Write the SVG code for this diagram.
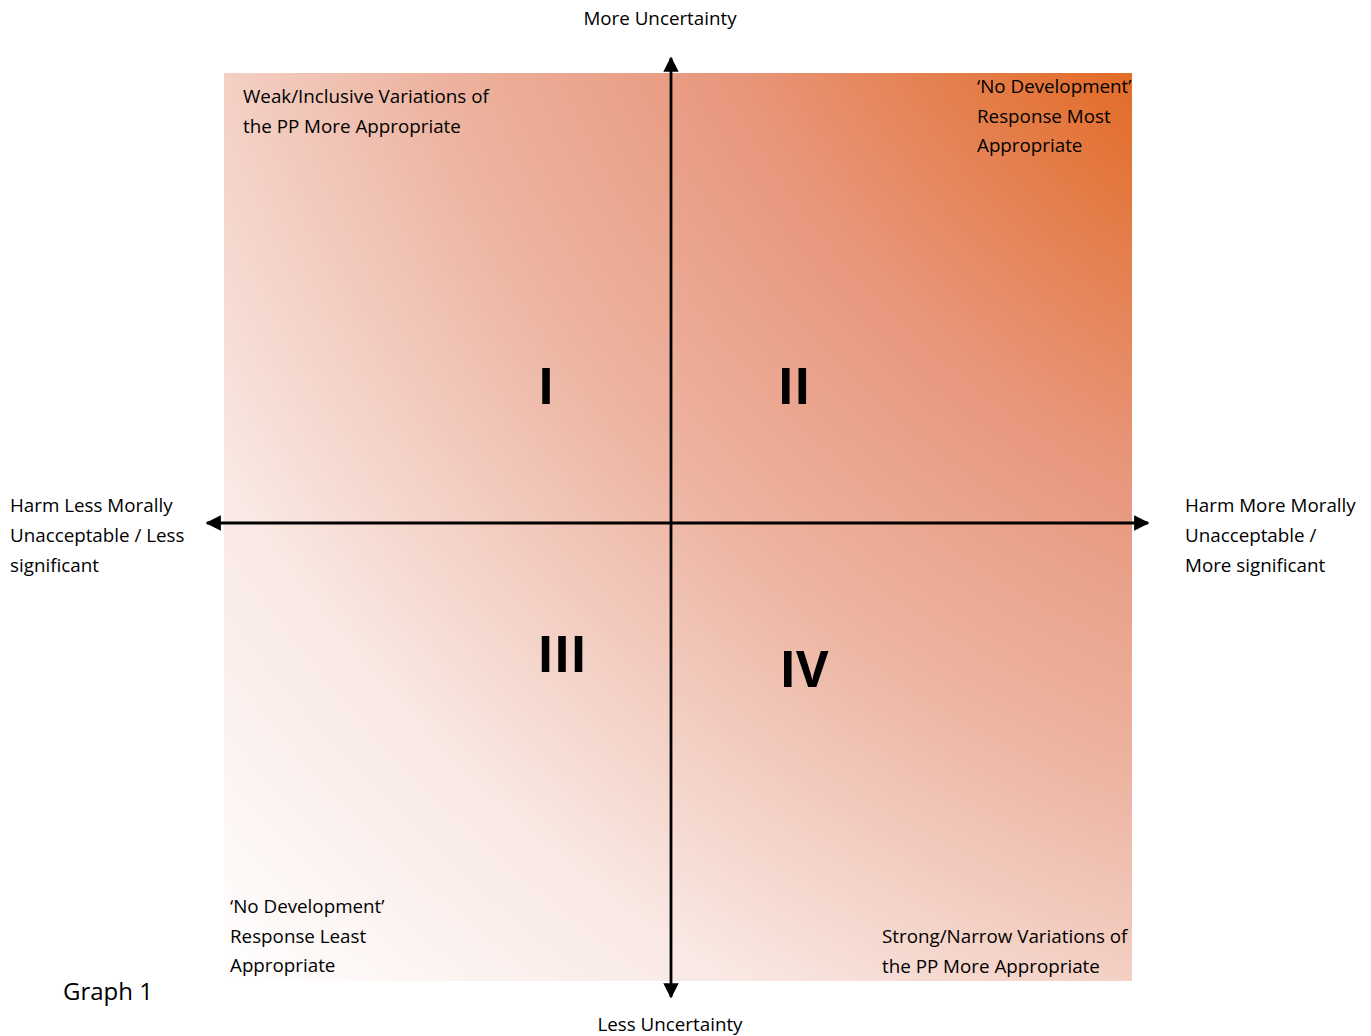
<svg xmlns="http://www.w3.org/2000/svg" width="1371" height="1036" viewBox="0 0 1371 1036">
<defs>
<radialGradient id="bg" gradientUnits="userSpaceOnUse" cx="1582" cy="-377" r="1920">
<stop offset="0.3313" stop-color="#E26C27"/>
<stop offset="0.4984" stop-color="#E8967B"/>
<stop offset="0.6456" stop-color="#EDB4A1"/>
<stop offset="0.8328" stop-color="#F9E8E3"/>
<stop offset="1" stop-color="#FFFFFF"/>
</radialGradient>
<marker id="arr" viewBox="0 0 10 10" refX="9" refY="5" markerWidth="5.5" markerHeight="5.5" orient="auto" markerUnits="strokeWidth">
<path d="M0,0 L10,5 L0,10 Z" fill="#000"/>
</marker>
</defs>
<style>
text{font-family:"Open Sans","Liberation Sans",Arial,sans-serif;font-size:18.8px;fill:#000}
.num{font-family:"Open Sans","Liberation Sans",sans-serif;font-size:50px;font-weight:bold;text-anchor:middle}
.axis{stroke:#000;stroke-width:2.8;fill:none}
</style>
<rect id="background" x="224" y="73" width="908" height="908" fill="url(#bg)"/>
<g id="connectors">
<line class="axis" x1="671" y1="523" x2="671" y2="58" marker-end="url(#arr)"/>
<line class="axis" x1="671" y1="523" x2="671" y2="997" marker-end="url(#arr)"/>
<line class="axis" x1="671" y1="523" x2="207" y2="523" marker-end="url(#arr)"/>
<line class="axis" x1="671" y1="523" x2="1148" y2="523" marker-end="url(#arr)"/>
</g>
<g id="top-label"><text x="660" y="25" text-anchor="middle">More Uncertainty</text></g>
<g id="bottom-label"><text x="670" y="1031" text-anchor="middle">Less Uncertainty</text></g>
<g id="left-label"><text x="10" y="512">Harm Less Morally</text><text x="10" y="542">Unacceptable / Less</text><text x="10" y="572">significant</text></g>
<g id="right-label"><text x="1185" y="512">Harm More Morally</text><text x="1185" y="542">Unacceptable /</text><text x="1185" y="572">More significant</text></g>
<g id="q1-note"><text x="243" y="103">Weak/Inclusive Variations of</text><text x="243" y="133">the PP More Appropriate</text></g>
<g id="q2-note"><text x="977" y="93">‘No Development’</text><text x="977" y="123">Response Most</text><text x="977" y="152">Appropriate</text></g>
<g id="q3-note"><text x="230" y="913">‘No Development’</text><text x="230" y="943">Response Least</text><text x="230" y="972">Appropriate</text></g>
<g id="q4-note"><text x="882" y="943">Strong/Narrow Variations of</text><text x="882" y="973">the PP More Appropriate</text></g>
<g id="quadrant-I"><text class="num" x="546" y="404">I</text></g>
<g id="quadrant-II"><text class="num" x="794" y="404">II</text></g>
<g id="quadrant-III"><text class="num" x="562" y="672">III</text></g>
<g id="quadrant-IV"><text class="num" x="804" y="687">IV</text></g>
<g id="caption"><text x="63" y="1000" style="font-size:24px">Graph 1</text></g>
</svg>
